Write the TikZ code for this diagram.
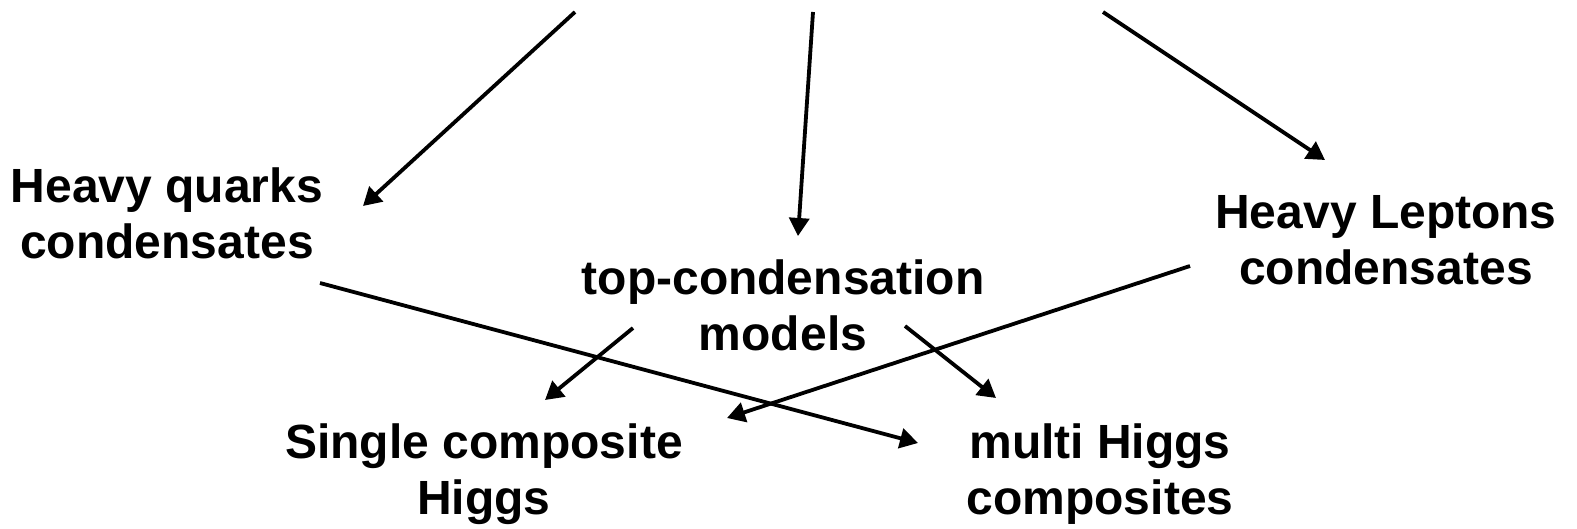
\documentclass[tikz,border=0pt]{standalone}
\usepackage{fontspec}
\setmainfont{Liberation Sans}
\usetikzlibrary{arrows.meta}
\tikzset{
  lbl/.style={align=center, inner sep=0pt, anchor=base,
    font=\fontsize{24}{28}\selectfont\bfseries},
  arr/.style={line width=1.9pt, -{Triangle[length=9pt,width=10pt]}}
}
\begin{document}
\begin{tikzpicture}[x=0.5pt, y=-0.5pt]
\useasboundingbox (0,0) rectangle (1577,529);

% category labels (anchored at the baseline of their last line)
\node[lbl] (hq)  at (167,258)  {Heavy quarks\\condensates};
\node[lbl] (top) at (783,350)  {top-condensation\\models};
\node[lbl] (hl)  at (1386,284) {Heavy Leptons\\condensates};
\node[lbl] (sc)  at (484,514)  {Single composite\\Higgs};
\node[lbl] (mh)  at (1100,514) {multi Higgs\\composites};

% arrows coming in from above
\coordinate (src1) at (575,12);
\coordinate (src2) at (813,12);
\coordinate (src3) at (1103,12);
\coordinate (hq-in)  at (363,206);
\coordinate (top-in) at (798,236);
\coordinate (hl-in)  at (1325,160);

% arrow ends between the labels
\coordinate (hq-out)  at (320,283);
\coordinate (hl-out)  at (1190,266);
\coordinate (top-l)   at (633,328);
\coordinate (top-r)   at (905,326);
\coordinate (sc-in1)  at (545,400);
\coordinate (sc-in2)  at (727,418);
\coordinate (mh-in1)  at (996,398);
\coordinate (mh-in2)  at (918,443);

\draw[arr] (src1) -- (hq-in);
\draw[arr] (src2) -- (top-in);
\draw[arr] (src3) -- (hl-in);
\draw[arr] (hq-out) -- (mh-in2);
\draw[arr] (hl-out) -- (sc-in2);
\draw[arr] (top-l) -- (sc-in1);
\draw[arr] (top-r) -- (mh-in1);
\end{tikzpicture}
\end{document}
